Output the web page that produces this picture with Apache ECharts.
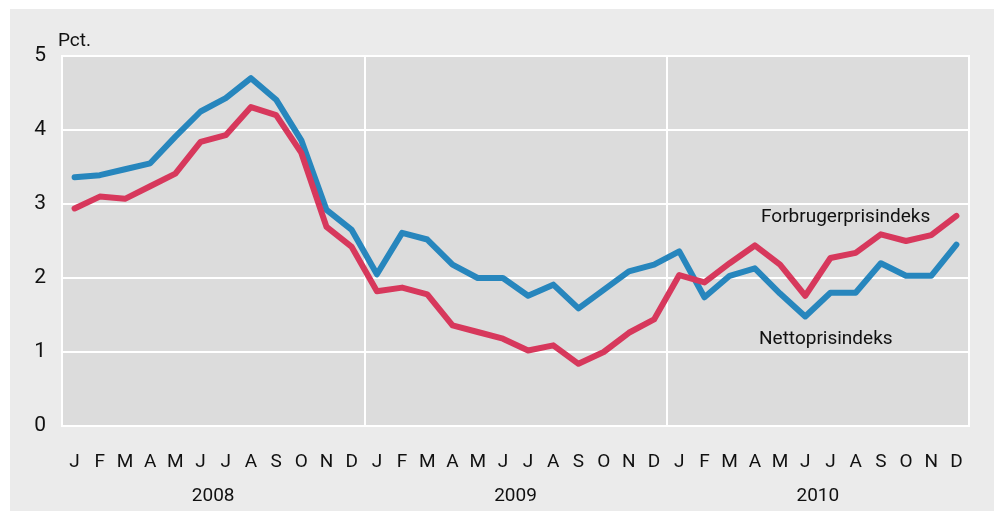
<!DOCTYPE html>
<html>
<head>
<meta charset="utf-8">
<script src="https://cdn.jsdelivr.net/npm/echarts@6/dist/echarts.min.js"></script>
<style>
  html, body { margin: 0; padding: 0; background: #fff; }
  #chart { width: 997px; height: 511px; }
</style>
</head>
<body>
<div id="chart"></div>
<script>
const months = ['J', 'F', 'M', 'A', 'M', 'J', 'J', 'A', 'S', 'O', 'N', 'D']
const categories = [...months, ...months, ...months]
const years = ['2008', '2009', '2010']
const yTicks = [0, 1, 2, 3, 4, 5]

// Forbrugerprisindeks (rød)
const forbruger = [
  2.94, 3.10, 3.07, 3.24, 3.41, 3.84, 3.93, 4.31, 4.20, 3.69, 2.69, 2.42,
  1.82, 1.87, 1.78, 1.36, 1.27, 1.18, 1.02, 1.09, 0.84, 1.00, 1.26, 1.44,
  2.04, 1.94, 2.20, 2.44, 2.18, 1.76, 2.27, 2.34, 2.59, 2.50, 2.58, 2.84
]
// Nettoprisindeks (blå)
const netto = [
  3.36, 3.39, 3.47, 3.55, 3.91, 4.25, 4.43, 4.70, 4.41, 3.86, 2.92, 2.65,
  2.05, 2.61, 2.52, 2.18, 2.00, 2.00, 1.76, 1.91, 1.59, 1.84, 2.09, 2.18,
  2.36, 1.74, 2.03, 2.13, 1.79, 1.48, 1.80, 1.80, 2.20, 2.03, 2.03, 2.45
]

const font = 'Roboto, "Open Sans", sans-serif'
const chart = echarts.init(document.getElementById('chart'))

const options = {
  animation: false,
  textStyle: { fontFamily: font, color: '#111' },
  graphic: [
    {
      type: 'rect',
      z: -10,
      silent: true,
      shape: { x: 10, y: 9, width: 984, height: 502 },
      style: { fill: '#ebebeb' }
    },
    {
      type: 'text',
      left: 58,
      top: 32,
      style: { text: 'Pct.', font: '19px ' + font, fill: '#111' }
    },
    {
      type: 'text',
      left: 761,
      top: 208,
      style: { text: 'Forbrugerprisindeks', font: '19px ' + font, fill: '#111' }
    },
    {
      type: 'text',
      left: 759,
      top: 330,
      style: { text: 'Nettoprisindeks', font: '19px ' + font, fill: '#111' }
    }
  ],
  grid: {
    left: 62,
    right: 28,
    top: 56,
    bottom: 85,
    show: true,
    backgroundColor: '#dcdcdc',
    borderColor: '#fff',
    borderWidth: 2
  },
  xAxis: [
    {
      type: 'category',
      data: categories,
      boundaryGap: true,
      axisLine: { show: false },
      axisTick: { show: false },
      axisLabel: {
        interval: 0,
        margin: 27,
        fontSize: 19,
        color: '#111',
        fontFamily: font
      },
      splitLine: {
        show: true,
        interval: (i) => i % 12 === 0,
        lineStyle: { color: '#fff', width: 2 }
      }
    },
    {
      type: 'category',
      data: years,
      position: 'bottom',
      offset: 34,
      boundaryGap: true,
      axisLine: { show: false },
      axisTick: { show: false },
      axisLabel: {
        interval: 0,
        margin: 27,
        fontSize: 19,
        color: '#111',
        fontFamily: font
      },
      splitLine: { show: false }
    }
  ],
  yAxis: {
    type: 'value',
    min: yTicks[0],
    max: yTicks[yTicks.length - 1],
    interval: 1,
    axisLine: { show: false },
    axisTick: { show: false },
    axisLabel: {
      margin: 16,
      fontSize: 21,
      color: '#111',
      fontFamily: font
    },
    splitLine: { lineStyle: { color: '#fff', width: 2 } }
  },
  series: [
    {
      name: 'Nettoprisindeks',
      type: 'line',
      xAxisIndex: 0,
      data: netto,
      symbol: 'none',
      lineStyle: { color: '#2786bd', width: 6, cap: 'round', join: 'round' },
      z: 3
    },
    {
      name: 'Forbrugerprisindeks',
      type: 'line',
      xAxisIndex: 0,
      data: forbruger,
      symbol: 'none',
      lineStyle: { color: '#d7385c', width: 6, cap: 'round', join: 'round' },
      z: 4
    }
  ]
}
chart.setOption(options)
</script>
</body>
</html>
